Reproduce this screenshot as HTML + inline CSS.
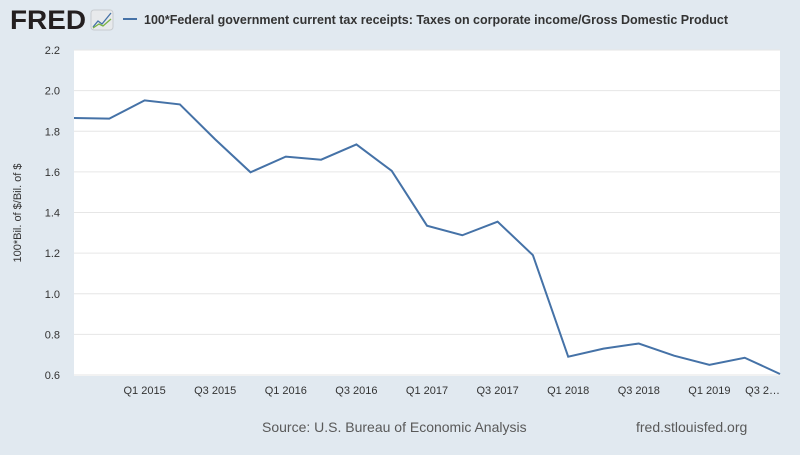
<!DOCTYPE html>
<html><head><meta charset="utf-8"><style>
body{margin:0;width:800px;height:450px;background:#e1e9f0;font-family:"Liberation Sans",sans-serif;overflow:hidden}
</style></head><body>
<svg width="800" height="450">
<g>
<text x="10" y="29" font-size="27" font-weight="bold" fill="#231f20" textLength="76" lengthAdjust="spacingAndGlyphs">FRED</text>
<rect x="91" y="10" width="22" height="20" rx="3" fill="#e8eaec" stroke="#c8ccd0"/>
<polyline points="93,27 98,21 102,24 111,13" fill="none" stroke="#4572a7" stroke-width="1.3"/>
<polyline points="93,28 99,24 103,26 111,19" fill="none" stroke="#7ab342" stroke-width="1.3"/>
</g>
<line x1="123" y1="19" x2="137" y2="19" stroke="#4572a7" stroke-width="2"/>
<text x="144" y="24" font-size="12.5" font-weight="bold" fill="#333">100*Federal government current tax receipts: Taxes on corporate income/Gross Domestic Product</text>
<rect x="74" y="50" width="706" height="326" fill="#fff"/>
<g id="grid"></g><g id="yt"></g><g id="xt"></g>
<path id="line" fill="none" stroke="#4572a7" stroke-width="2"/>
<text transform="translate(21,213) rotate(-90)" text-anchor="middle" font-size="11" fill="#333">100*Bil. of $/Bil. of $</text>
<text x="262" y="432" font-size="14" fill="#595959">Source: U.S. Bureau of Economic Analysis</text>
<text x="636" y="432" font-size="14" fill="#595959">fred.stlouisfed.org</text>
</svg>
<script>
const values=[1.865,1.862,1.952,1.932,1.76,1.598,1.675,1.66,1.735,1.605,1.335,1.288,1.355,1.19,0.69,0.73,0.755,0.695,0.65,0.685,0.605];
const yTicks=[0.6,0.8,1.0,1.2,1.4,1.6,1.8,2.0,2.2];
const xLabels=["Q1 2015","Q3 2015","Q1 2016","Q3 2016","Q1 2017","Q3 2017","Q1 2018","Q3 2018","Q1 2019","Q3 2…"];
const xLabelIdx=[2,4,6,8,10,12,14,16,18,20];
const NS="http://www.w3.org/2000/svg";
const x=i=>74+i*(706/(values.length-1));
const y=v=>375-(v-0.6)/1.6*325;
const g=document.getElementById('grid'),yt=document.getElementById('yt'),xt=document.getElementById('xt');
yTicks.forEach(t=>{
 const l=document.createElementNS(NS,'line');
 l.setAttribute('x1',74);l.setAttribute('x2',780);l.setAttribute('y1',y(t));l.setAttribute('y2',y(t));
 l.setAttribute('stroke','#e6e6e6');
 
 
 g.appendChild(l);
 const tx=document.createElementNS(NS,'text');
 tx.setAttribute('x',60);tx.setAttribute('y',y(t)+4);tx.setAttribute('text-anchor','end');
 tx.setAttribute('font-size','11');tx.setAttribute('fill','#333');
 tx.textContent=t.toFixed(1);
 
 
 yt.appendChild(tx);
});
xLabels.forEach((s,k)=>{
 const tx=document.createElementNS(NS,'text');
 tx.setAttribute('x',x(xLabelIdx[k]));tx.setAttribute('y',394);
 tx.setAttribute('text-anchor',k===xLabels.length-1?'end':'middle');
 tx.setAttribute('font-size','11');tx.setAttribute('fill','#333');
 tx.textContent=s;
 
 
 xt.appendChild(tx);
});
document.getElementById('line').setAttribute('d',values.map((v,i)=>(i?'L':'M')+x(i)+','+y(v)).join(''));
</script>
</body></html>
